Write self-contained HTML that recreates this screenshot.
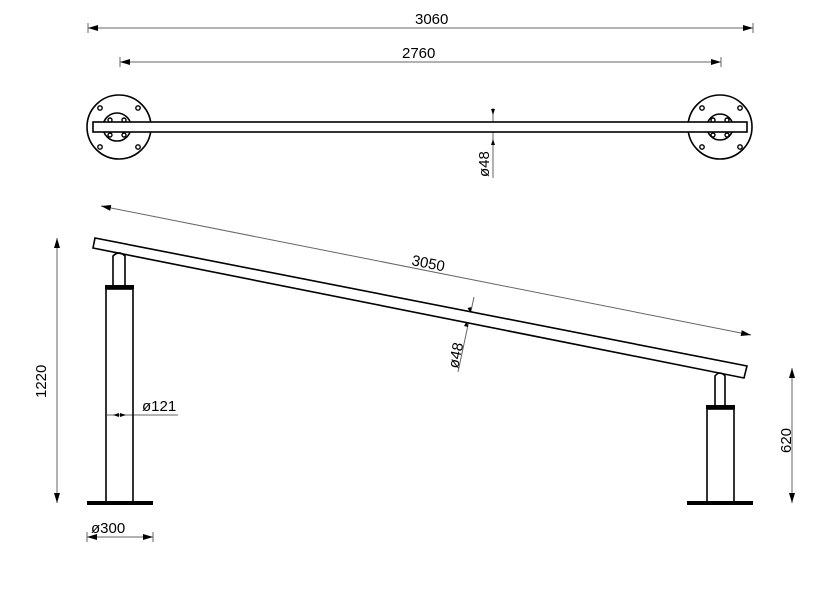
<!DOCTYPE html>
<html><head><style>body{margin:0;background:#fff}svg{display:block}text{font-family:"Liberation Sans",sans-serif;fill:#000}</style></head>
<body>
<svg width="817" height="593" viewBox="0 0 817 593" xmlns="http://www.w3.org/2000/svg">
<defs>
<marker id="a" viewBox="0 0 10 6" refX="10" refY="3" markerWidth="10" markerHeight="6" orient="auto-start-reverse" markerUnits="userSpaceOnUse"><path d="M0,0 L10,3 L0,6Z" fill="#000"/></marker>
</defs>
<g stroke="#666" stroke-width="1" fill="none">
<line x1="88" y1="28" x2="753" y2="28" marker-start="url(#a)" marker-end="url(#a)"/>
<line x1="88" y1="23" x2="88" y2="33"/><line x1="753" y1="23" x2="753" y2="33"/>
<line x1="120" y1="62" x2="721" y2="62" marker-start="url(#a)" marker-end="url(#a)"/>
<line x1="120" y1="57" x2="120" y2="67"/><line x1="721" y1="57" x2="721" y2="67"/>
<line x1="493" y1="108" x2="493" y2="178"/>
<line x1="101" y1="206" x2="751" y2="335" marker-start="url(#a)" marker-end="url(#a)"/>
<line x1="474" y1="297" x2="458" y2="372"/>
<line x1="57" y1="238" x2="57" y2="503" marker-start="url(#a)" marker-end="url(#a)"/>
<line x1="792" y1="368" x2="792" y2="503" marker-start="url(#a)" marker-end="url(#a)"/>
<line x1="87" y1="537" x2="153" y2="537" marker-start="url(#a)" marker-end="url(#a)"/>
<line x1="87" y1="532" x2="87" y2="542"/><line x1="153" y1="532" x2="153" y2="542"/>
<line x1="107" y1="415" x2="178" y2="415"/>
</g>
<g fill="#000">
<path d="M493,115 l-2,-6 h4z M493,139 l-2,6 h4z M470.5,313 l-3,-5 4,-1z M467,321 l1,6 -4,-1z M113,415 l6,-2 v4z M126,415 l-6,-2 v4z"/>
</g>
<g stroke="#000" stroke-width="1.6" fill="none">
<circle cx="119" cy="127" r="32"/><circle cx="117" cy="127" r="14"/>
<circle cx="720" cy="127" r="32"/><circle cx="720" cy="127" r="13"/>
<rect x="93" y="122" width="654" height="10" fill="#fff"/>
</g>
<g fill="#fff" stroke="#000" stroke-width="1.4">
<circle cx="100" cy="108" r="2.2"/><circle cx="138" cy="108" r="2.2"/><circle cx="100" cy="147" r="2.2"/><circle cx="138" cy="147" r="2.2"/>
<circle cx="702" cy="108" r="2.2"/><circle cx="740" cy="108" r="2.2"/><circle cx="702" cy="147" r="2.2"/><circle cx="740" cy="147" r="2.2"/>
<circle cx="110" cy="120" r="2"/><circle cx="124" cy="120" r="2"/><circle cx="110" cy="135" r="2"/><circle cx="124" cy="135" r="2"/>
<circle cx="713" cy="120" r="2"/><circle cx="727" cy="120" r="2"/><circle cx="713" cy="135" r="2"/><circle cx="727" cy="135" r="2"/>
</g>
<g stroke="#000" stroke-width="1.6" fill="none">
<path d="M95,238 L747,366 L744,378 L93,248 Z" fill="#fff"/>
<path d="M113,286 V256 Q119,250 125,256 V286"/>
<rect x="106" y="289" width="27" height="213"/>
<path d="M715,405 V376 Q720,370 725,376 V405"/>
<rect x="707" y="409" width="27" height="93"/>
</g>
<g fill="#000">
<rect x="105" y="285" width="29" height="4"/>
<rect x="706" y="405" width="29" height="4"/>
<rect x="87" y="501" width="66" height="4"/>
<rect x="687" y="501" width="66" height="4"/>
</g>
<g font-size="15">
<text x="415" y="24">3060</text>
<text x="402" y="58">2760</text>
<text x="142" y="411">ø121</text>
<text x="91" y="533">ø300</text>
<text transform="translate(489,177) rotate(-90)">ø48</text>
<text transform="translate(46,398) rotate(-90)">1220</text>
<text transform="translate(791,453) rotate(-90)">620</text>
<text transform="translate(411,265) rotate(11.2)">3050</text>
<text transform="translate(458,369) rotate(-78)">ø48</text>
</g>
</svg>
</body></html>
